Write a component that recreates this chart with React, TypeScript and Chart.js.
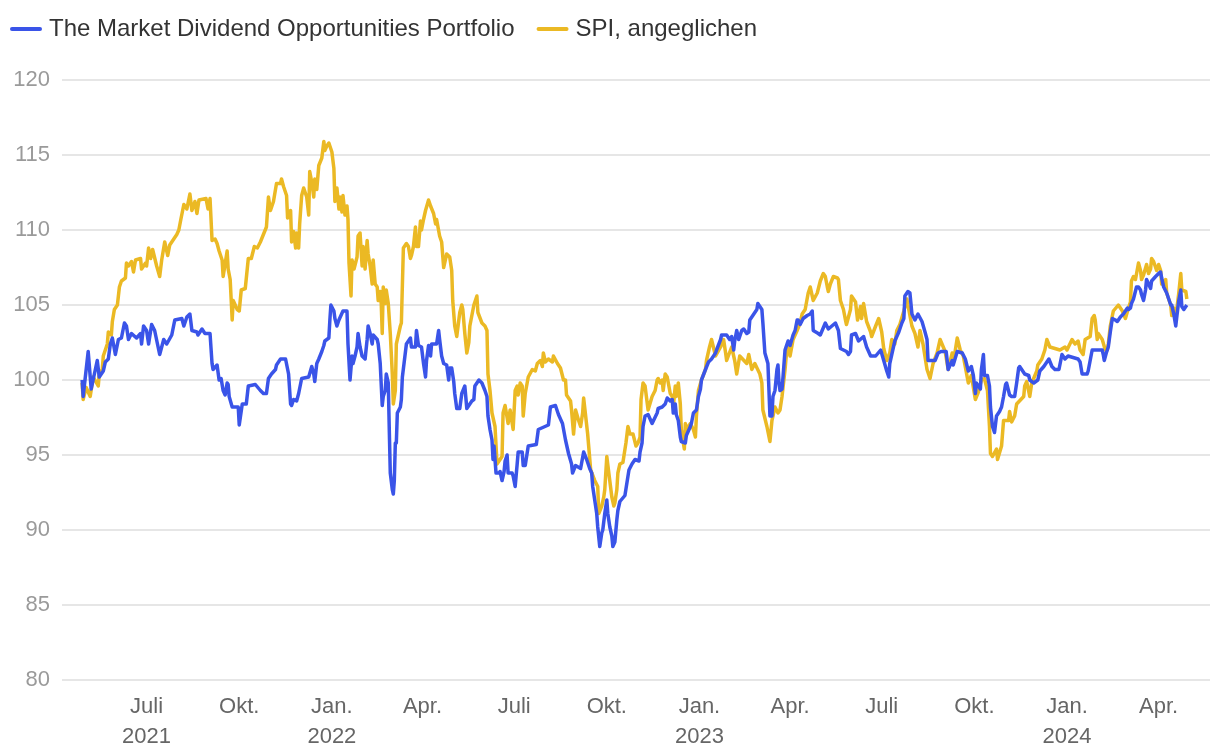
import React, { useEffect, useRef } from "react";
import { Chart, registerables } from "chart.js";

Chart.register(...registerables);

// Series names
const portfolioLabel = "The Market Dividend Opportunities Portfolio";
const spiLabel = "SPI, angeglichen";

// Day 0 = 28 Apr 2021; each entry is [day offset, indexed value]
const portfolioSeries: [number, number][] = [
  [0,100.0],[1,98.9],[6,101.9],[9,99.4],[15,101.3],[17,100.2],[21,100.6],[23,101.2],[26,101.4],[28,102.4],[30,102.8],[33,101.7],[36,102.7],[39,102.8],[42,103.8],[44,103.6],[46,102.7],[49,103.1],[54,102.8],[58,103.1],[59,102.4],[61,103.6],[64,103.3],[66,102.4],[69,103.7],[72,103.3],[77,101.7],[81,102.7],[84,102.4],[89,103.0],[92,104.0],[99,104.1],[101,103.6],[104,104.2],[107,104.4],[109,103.3],[114,103.2],[115,103.0],[119,103.4],[122,103.1],[127,103.1],[129,101.1],[130,100.7],[134,101.0],[136,100.0],[138,100.1],[140,99.3],[142,99.0],[144,99.8],[145,99.7],[146,98.9],[149,98.2],[155,98.2],[156,97.0],[159,98.4],[163,98.4],[165,99.6],[172,99.7],[177,99.3],[180,99.1],[183,99.1],[185,100.1],[188,100.4],[192,100.7],[193,101.0],[197,101.4],[202,101.4],[205,100.4],[207,98.4],[208,98.3],[210,98.7],[213,98.6],[215,99.1],[218,100.1],[225,100.2],[228,100.9],[230,100.4],[231,99.9],[233,101.1],[235,101.4],[238,101.9],[240,102.3],[241,102.6],[245,102.8],[246,104.0],[247,105.0],[250,104.6],[251,104.1],[253,103.6],[255,104.0],[257,104.3],[259,104.6],[263,104.6],[264,102.4],[266,100.0],[268,101.6],[269,101.1],[271,101.6],[273,102.2],[274,103.1],[276,102.2],[278,101.6],[281,101.4],[283,102.7],[284,103.6],[286,103.1],[288,102.4],[289,103.0],[293,102.7],[294,102.4],[296,101.1],[298,98.3],[299,98.9],[301,99.3],[302,100.4],[304,99.8],[305,96.7],[306,93.8],[308,92.7],[309,92.4],[310,93.3],[311,95.8],[312,95.8],[313,97.8],[316,98.2],[317,98.7],[318,100.2],[320,101.3],[322,102.4],[326,102.8],[327,102.2],[331,102.2],[332,103.3],[334,102.3],[337,102.2],[339,101.1],[341,100.2],[342,101.3],[344,102.3],[346,101.6],[347,102.4],[352,102.4],[354,103.3],[355,102.7],[357,101.6],[359,101.1],[362,101.0],[364,100.0],[365,100.8],[367,100.8],[369,99.9],[370,99.1],[372,98.1],[375,98.1],[377,99.1],[380,99.6],[382,98.1],[387,98.6],[389,98.7],[390,99.6],[394,100.0],[397,99.8],[400,99.3],[402,98.9],[403,97.6],[405,96.7],[407,96.0],[408,94.7],[409,95.6],[411,93.8],[414,93.8],[415,93.9],[417,93.3],[419,93.9],[420,94.6],[422,95.0],[423,93.8],[427,93.8],[428,93.6],[430,92.9],[432,94.4],[433,95.2],[437,95.2],[438,94.3],[440,94.3],[443,95.6],[451,95.7],[453,96.7],[463,97.0],[465,98.2],[470,98.3],[473,97.7],[477,97.1],[480,96.0],[483,95.1],[486,94.4],[487,93.8],[490,94.3],[495,94.1],[498,95.2],[501,94.7],[504,94.1],[506,93.8],[507,92.9],[509,92.0],[511,91.1],[512,90.2],[514,88.9],[516,89.8],[517,90.0],[519,91.1],[521,92.0],[522,91.1],[524,90.2],[526,89.6],[527,88.9],[529,89.2],[531,90.7],[532,91.3],[534,91.9],[539,92.3],[543,94.0],[546,94.4],[549,94.7],[553,94.6],[554,95.2],[556,95.8],[557,96.9],[559,97.6],[562,97.7],[566,97.1],[571,97.8],[572,98.1],[576,98.2],[579,98.4],[581,98.8],[584,98.6],[586,98.7],[587,97.8],[589,98.4],[590,97.7],[592,97.3],[594,96.2],[595,95.9],[599,95.8],[600,96.3],[604,96.9],[605,97.1],[607,97.8],[610,98.0],[612,98.9],[614,99.4],[615,100.0],[619,100.7],[622,101.2],[625,101.4],[629,101.8],[630,102.0],[634,102.7],[635,103.0],[640,103.0],[643,102.7],[645,102.9],[647,102.0],[648,102.6],[650,103.3],[652,102.7],[655,103.3],[657,103.4],[660,103.1],[662,103.2],[663,104.0],[666,104.3],[670,104.7],[671,105.1],[675,104.7],[676,103.8],[678,101.8],[681,101.1],[683,97.6],[685,97.6],[686,98.9],[688,99.3],[690,100.7],[691,101.0],[692,99.8],[693,99.3],[695,99.4],[696,100.2],[698,102.0],[701,102.6],[703,102.3],[706,103.0],[708,103.3],[710,104.0],[711,104.0],[713,103.7],[716,104.1],[720,104.3],[723,104.4],[725,104.6],[726,103.3],[731,103.1],[733,103.0],[738,103.8],[741,103.4],[748,103.8],[751,103.3],[753,102.1],[759,101.9],[761,101.7],[763,101.9],[764,103.0],[768,103.1],[771,102.6],[776,102.9],[779,102.2],[783,101.6],[788,101.6],[793,102.0],[796,101.3],[799,100.6],[801,100.2],[802,101.1],[804,101.7],[807,102.6],[811,103.2],[814,103.8],[816,104.1],[817,105.6],[820,105.9],[822,105.8],[824,104.4],[827,104.0],[830,104.4],[834,103.9],[837,103.2],[839,102.7],[840,101.3],[847,101.3],[850,101.8],[853,101.9],[858,101.9],[860,100.7],[864,101.3],[865,101.0],[869,101.9],[874,101.8],[877,101.4],[880,100.6],[883,100.9],[885,100.3],[887,99.1],[888,99.8],[892,99.4],[893,100.7],[895,101.7],[896,100.3],[899,100.3],[901,99.6],[902,98.2],[904,96.9],[906,96.5],[908,97.6],[911,97.9],[913,98.2],[915,98.9],[917,99.7],[918,99.8],[921,99.0],[923,98.9],[926,98.9],[928,99.8],[930,100.8],[931,100.9],[936,100.4],[940,100.3],[941,100.0],[945,99.8],[949,100.0],[951,100.6],[955,100.9],[958,101.2],[960,101.4],[963,100.9],[966,100.7],[970,100.7],[973,101.7],[976,101.4],[979,101.6],[989,101.4],[991,101.2],[993,100.4],[998,100.4],[999,100.6],[1001,101.3],[1003,102.0],[1013,102.0],[1014,101.7],[1015,101.3],[1017,101.8],[1019,102.2],[1021,103.2],[1023,104.1],[1026,104.0],[1028,103.9],[1031,104.2],[1034,104.4],[1038,104.8],[1039,104.7],[1041,104.8],[1042,105.1],[1044,105.4],[1047,106.2],[1049,106.2],[1051,106.0],[1052,105.7],[1054,105.3],[1056,106.0],[1057,106.7],[1059,106.4],[1061,106.1],[1062,106.6],[1066,106.9],[1069,107.1],[1071,107.2],[1072,106.8],[1074,106.2],[1077,105.8],[1079,105.4],[1081,105.0],[1082,105.0],[1084,104.4],[1086,103.6],[1087,104.2],[1089,105.3],[1091,106.0],[1092,104.9],[1094,104.7],[1096,104.9],[1097,105.0],
];

const spiSeries: [number, number][] = [
  [0,99.8],[1,98.7],[4,99.5],[8,98.9],[11,100.2],[16,99.6],[17,100.4],[20,100.7],[21,101.6],[24,102.2],[25,102.4],[26,103.2],[29,103.0],[30,103.9],[32,104.7],[35,105.0],[37,106.2],[39,106.6],[43,106.8],[44,107.8],[46,107.6],[49,107.9],[51,107.2],[53,108.0],[58,108.1],[59,107.4],[63,107.8],[64,107.6],[66,108.8],[68,108.1],[70,108.7],[74,107.6],[77,106.9],[79,108.0],[82,109.2],[85,108.3],[87,109.0],[91,109.4],[94,109.7],[96,110.0],[98,110.7],[101,111.7],[104,111.4],[107,112.4],[109,111.3],[112,111.9],[114,111.1],[116,112.0],[123,112.1],[125,111.4],[127,112.1],[129,109.3],[132,109.4],[134,109.1],[136,108.6],[139,108.0],[140,106.9],[144,108.6],[145,107.4],[147,106.7],[149,104.0],[150,105.3],[154,104.7],[156,104.6],[158,106.0],[162,106.1],[165,108.1],[168,108.1],[171,108.9],[174,108.8],[177,109.2],[180,109.7],[183,110.2],[185,112.2],[187,111.3],[190,111.9],[193,113.1],[197,113.1],[198,113.4],[200,112.9],[203,112.3],[204,110.8],[207,111.3],[208,109.2],[210,109.9],[212,108.8],[213,109.8],[215,108.8],[216,110.4],[218,112.3],[220,112.8],[223,112.2],[225,111.0],[226,113.9],[228,113.2],[230,112.2],[231,113.4],[233,112.7],[235,114.3],[238,114.8],[240,115.9],[241,115.3],[243,115.6],[245,115.8],[248,115.2],[250,114.1],[251,111.9],[253,112.8],[255,111.4],[256,112.2],[258,111.2],[259,112.3],[261,111.0],[263,111.6],[264,110.7],[265,107.8],[267,105.6],[268,108.0],[270,107.4],[273,108.2],[274,109.6],[276,109.8],[278,107.6],[279,108.9],[281,107.4],[283,109.3],[284,108.4],[286,107.6],[288,106.4],[289,108.0],[291,106.4],[293,106.2],[294,105.3],[296,105.9],[297,105.1],[298,103.1],[299,106.2],[301,105.1],[302,106.0],[304,105.1],[306,103.1],[308,100.4],[309,98.4],[311,99.3],[312,102.4],[316,103.6],[317,103.8],[319,108.8],[322,109.1],[324,108.9],[326,108.1],[327,108.3],[329,108.9],[331,110.2],[332,108.9],[334,108.9],[336,110.6],[337,110.0],[339,110.7],[341,111.3],[344,112.0],[346,111.6],[349,111.1],[351,110.4],[352,110.7],[355,109.6],[357,109.2],[359,107.5],[362,108.4],[365,108.2],[367,107.3],[368,105.3],[370,103.6],[372,102.9],[375,104.5],[377,105.0],[378,104.7],[380,103.1],[382,101.8],[384,102.5],[385,103.6],[389,105.0],[392,105.6],[393,104.5],[397,103.8],[400,103.6],[402,103.3],[403,100.4],[405,99.3],[407,97.8],[410,96.9],[412,94.4],[417,94.9],[418,97.8],[420,98.3],[423,97.1],[425,98.0],[428,96.7],[430,99.3],[432,99.6],[433,99.0],[435,99.8],[437,99.6],[438,97.6],[440,99.1],[443,100.2],[447,100.7],[450,100.6],[452,101.1],[455,101.3],[457,100.9],[458,101.8],[460,101.2],[463,101.4],[467,101.2],[468,101.6],[472,101.1],[475,100.8],[478,100.0],[480,100.0],[481,99.0],[485,98.6],[486,98.0],[488,96.4],[490,98.0],[493,97.3],[495,96.9],[497,97.8],[498,98.8],[500,97.6],[502,96.4],[503,95.6],[505,94.0],[509,93.3],[512,92.9],[513,91.1],[516,91.6],[518,92.2],[519,92.7],[521,94.9],[523,93.8],[526,92.2],[528,91.6],[529,91.8],[531,92.7],[532,93.8],[534,94.4],[537,94.5],[540,95.8],[542,96.9],[544,96.4],[547,96.4],[550,95.6],[552,95.8],[554,96.2],[555,98.7],[557,99.8],[559,99.6],[562,98.0],[566,98.9],[569,99.3],[571,100.0],[572,100.1],[574,99.8],[576,100.0],[577,99.3],[579,100.4],[581,100.2],[584,99.1],[586,98.9],[587,98.2],[589,99.6],[590,98.9],[592,99.8],[594,98.4],[595,96.7],[597,95.8],[598,95.4],[599,97.1],[600,96.7],[604,97.1],[607,96.7],[609,96.2],[610,97.6],[612,99.3],[615,100.0],[619,100.7],[620,101.3],[623,102.2],[625,102.7],[629,101.6],[634,102.2],[637,102.7],[639,101.8],[640,101.3],[645,102.2],[648,101.3],[650,100.4],[653,101.6],[660,101.1],[662,101.7],[665,100.7],[668,101.1],[673,100.4],[675,99.8],[676,98.0],[680,96.9],[683,95.9],[685,97.3],[688,98.2],[691,97.8],[693,98.0],[695,98.9],[698,100.7],[700,102.2],[701,102.2],[703,101.6],[706,102.7],[710,103.3],[713,103.8],[715,104.4],[718,104.7],[721,105.8],[723,106.2],[726,105.3],[730,105.8],[733,106.6],[736,107.1],[738,106.9],[740,106.2],[741,105.9],[743,106.4],[746,106.9],[750,106.8],[751,106.7],[753,105.3],[756,104.7],[758,104.0],[759,103.7],[763,104.7],[764,105.6],[768,105.2],[770,104.0],[773,104.9],[774,104.1],[776,105.1],[779,103.9],[783,103.2],[784,102.9],[788,103.6],[791,104.1],[794,103.2],[796,102.1],[799,101.3],[802,101.8],[804,102.7],[807,102.4],[809,103.3],[812,103.7],[816,104.6],[819,105.4],[820,105.0],[824,103.6],[827,103.1],[830,102.2],[832,103.3],[835,102.4],[839,100.7],[842,100.1],[845,101.1],[849,101.8],[852,102.7],[857,101.9],[860,100.7],[864,101.8],[865,101.1],[869,102.8],[872,102.0],[875,101.6],[880,99.8],[883,100.3],[887,98.7],[890,99.2],[893,100.0],[896,100.1],[899,99.3],[901,96.9],[902,95.1],[904,94.9],[908,95.4],[909,94.7],[913,95.6],[915,97.3],[920,97.3],[921,97.9],[923,97.2],[926,97.6],[928,98.4],[935,98.9],[936,99.6],[938,99.9],[941,98.9],[943,99.8],[948,100.6],[949,101.0],[953,101.4],[956,102.0],[958,102.7],[961,102.2],[971,102.0],[976,102.2],[978,102.0],[983,102.7],[986,102.4],[989,102.6],[991,102.0],[994,101.7],[996,102.7],[1001,102.9],[1003,104.1],[1005,104.3],[1006,104.0],[1008,102.7],[1009,103.1],[1013,102.7],[1016,102.0],[1018,102.0],[1019,102.4],[1021,103.6],[1024,104.6],[1029,105.0],[1033,104.6],[1036,104.1],[1039,104.8],[1041,105.2],[1042,106.6],[1044,106.9],[1046,106.7],[1049,107.8],[1051,107.3],[1052,106.7],[1054,107.0],[1057,107.7],[1059,107.1],[1061,107.4],[1062,108.1],[1064,107.9],[1067,107.3],[1069,107.7],[1071,107.3],[1072,106.4],[1076,106.7],[1077,105.8],[1081,105.0],[1082,104.3],[1084,104.8],[1086,104.2],[1087,104.7],[1089,105.8],[1091,107.1],[1092,106.0],[1096,105.9],[1097,105.4],
];

// X axis ticks: days since 28 Apr 2021 of each quarter start
const tickDays = [64, 156, 248, 338, 429, 521, 613, 703, 794, 886, 978, 1069];
const tickLabels: (string | string[])[] = [
  ["Juli", "2021"], "Okt.", ["Jan.", "2022"], "Apr.", "Juli", "Okt.",
  ["Jan.", "2023"], "Apr.", "Juli", "Okt.", ["Jan.", "2024"], "Apr.",
];
const yMin = 80;
const yMax = 120;
const yStep = 5;

const portfolioColor = "#3a54e8";
const spiColor = "#ebb924";
const fontFamily = "'Liberation Sans', Arial, Helvetica, sans-serif";

const legendPlugin = {
  id: "topLegend",
  afterDraw(chart: any) {
    const ctx = chart.ctx;
    ctx.save();
    ctx.font = `24px ${fontFamily}`;
    ctx.textBaseline = "middle";
    ctx.textAlign = "left";
    let x = 10;
    const y = 29;
    chart.data.datasets.forEach((ds: any) => {
      ctx.strokeStyle = ds.borderColor;
      ctx.lineWidth = 4;
      ctx.lineCap = "round";
      ctx.beginPath();
      ctx.moveTo(x + 2, y);
      ctx.lineTo(x + 30, y);
      ctx.stroke();
      ctx.fillStyle = "#333333";
      ctx.fillText(ds.label, x + 39, y);
      x += 39 + ctx.measureText(ds.label).width + 22;
    });
    ctx.restore();
  },
};

export default function App() {
  const canvasRef = useRef<HTMLCanvasElement | null>(null);

  useEffect(() => {
    if (!canvasRef.current) return;
    const chart = new Chart(canvasRef.current, {
      type: "line",
      data: {
        datasets: [
          {
            label: portfolioLabel,
            data: portfolioSeries.map(([d, v]) => ({ x: d, y: v })),
            borderColor: portfolioColor,
            backgroundColor: portfolioColor,
            borderWidth: 3.5,
            pointRadius: 0,
            tension: 0,
            borderJoinStyle: "round",
          },
          {
            label: spiLabel,
            data: spiSeries.map(([d, v]) => ({ x: d, y: v })),
            borderColor: spiColor,
            backgroundColor: spiColor,
            borderWidth: 3.5,
            pointRadius: 0,
            tension: 0,
            borderJoinStyle: "round",
          },
        ],
      },
      options: {
        responsive: false,
        animation: false,
        events: [],
        layout: { padding: { top: 80, right: 10, left: 0, bottom: 0 } },
        plugins: {
          legend: { display: false },
          tooltip: { enabled: false },
        },
        scales: {
          x: {
            type: "linear",
            min: -20,
            max: 1120,
            grid: { display: false, drawTicks: false },
            border: { display: false },
            afterBuildTicks: (scale: any) => {
              scale.ticks = tickDays.map((value) => ({ value }));
            },
            afterFit: (scale: any) => {
              scale.height = 76;
            },
            ticks: {
              autoSkip: false,
              maxRotation: 0,
              color: "#666666",
              padding: 12,
              font: { family: fontFamily, size: 22, lineHeight: 1.35 },
              callback: (value: any) => {
                const i = tickDays.indexOf(Number(value));
                return i >= 0 ? tickLabels[i] : "";
              },
            },
          },
          y: {
            min: yMin,
            max: yMax,
            grid: { color: "#e6e6e6", lineWidth: 2, drawTicks: false },
            border: { display: false },
            afterFit: (scale: any) => {
              scale.width = 62;
            },
            ticks: {
              stepSize: yStep,
              color: "#9a9a9a",
              padding: 12,
              font: { family: fontFamily, size: 22 },
            },
          },
        },
      },
      plugins: [legendPlugin],
    });
    return () => chart.destroy();
  }, []);

  return (
    <div style={{ position: "absolute", left: 0, top: 0, width: 1220, height: 756, background: "#fff" }}>
      <canvas ref={canvasRef} width={1220} height={756} style={{ display: "block" }} />
    </div>
  );
}
